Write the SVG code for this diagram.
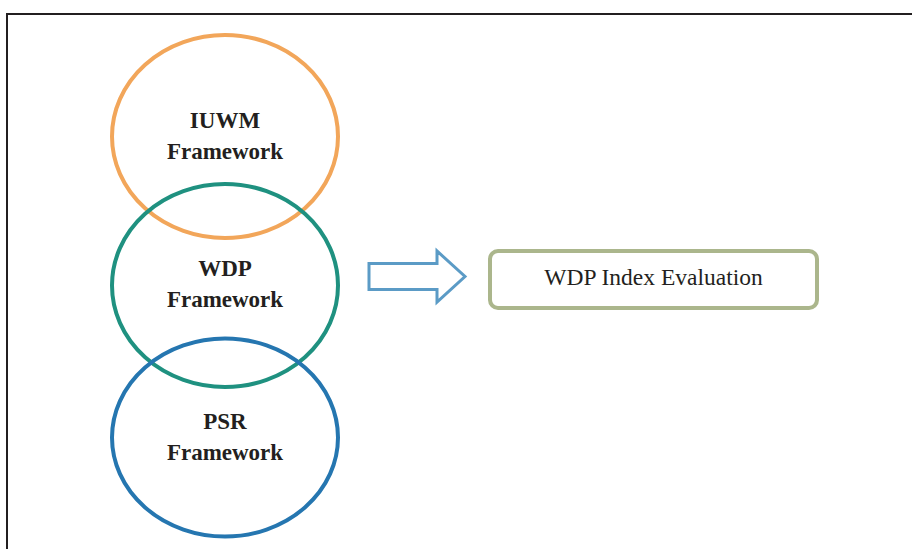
<svg xmlns="http://www.w3.org/2000/svg" width="912" height="549" viewBox="0 0 912 549">
<style>
.lbl{font-family:"Liberation Serif","Times New Roman",serif;font-weight:bold;font-size:23px;fill:#231f20;text-anchor:middle}
.ell{fill:none;stroke-width:4}
</style>
<rect width="912" height="549" fill="#fff"/>
<path d="M7 560 V14 H920" fill="none" stroke="#231f20" stroke-width="2"/>
<g id="iuwm"><ellipse class="ell" cx="225" cy="136.5" rx="113" ry="101.5" stroke="#f2a65a"/>
<text class="lbl" x="225" y="128">IUWM</text><text class="lbl" x="225" y="159">Framework</text></g>
<g id="wdp"><ellipse class="ell" cx="225" cy="285.5" rx="113" ry="101.5" stroke="#1f9180"/>
<text class="lbl" x="225" y="276">WDP</text><text class="lbl" x="225" y="307">Framework</text></g>
<g id="psr"><ellipse class="ell" cx="225" cy="437.5" rx="113" ry="99" stroke="#2576b0"/>
<text class="lbl" x="225" y="429">PSR</text><text class="lbl" x="225" y="460">Framework</text></g>
<g id="connectors"><path d="M369 263.5 H437 V251 L465 276.5 L437 302 V289.5 H369 Z" fill="#fff" stroke="#5b9bc6" stroke-width="3" stroke-linejoin="miter"/></g>
<g id="eval"><rect x="490" y="251" width="327" height="57" rx="8" fill="#fff" stroke="#abb68c" stroke-width="4"/>
<text x="653.5" y="285" font-family="'Liberation Serif','Times New Roman',serif" font-size="23.5" fill="#231f20" text-anchor="middle">WDP Index Evaluation</text></g>
</svg>
